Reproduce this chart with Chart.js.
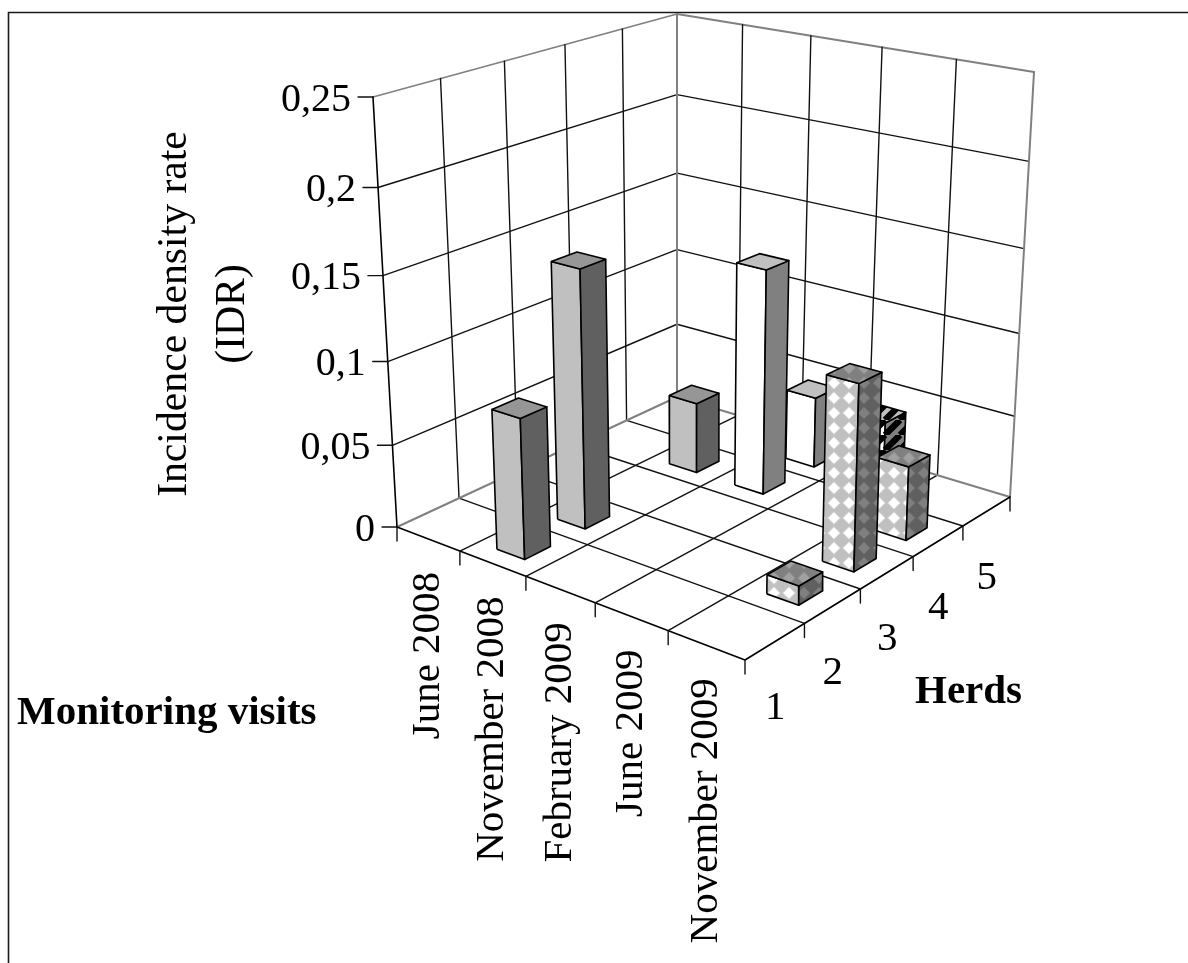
<!DOCTYPE html>
<html>
<head>
<meta charset="utf-8">
<title>Incidence density rate</title>
<script src="https://cdn.jsdelivr.net/npm/chart.js@4/dist/chart.umd.min.js"></script>
<style>
  html, body { margin: 0; padding: 0; background: #fff; }
  canvas { display: block; }
</style>
</head>
<body>
<canvas id="idrChart" width="1188" height="963"></canvas>
<script>
// categories and tick labels
const visits = ['June 2008', 'November 2008', 'February 2009', 'June 2009', 'November 2009'];
const herds = ['1', '2', '3', '4', '5'];
const idrTicks = [0, 0.05, 0.1, 0.15, 0.2, 0.25];
const idrTickLabels = ['0', '0,05', '0,1', '0,15', '0,2', '0,25'];

// one list per monitoring visit, values for herds 1 to 5
const idrJune2008 = [0, 0, 0, 0, 0];
const idrNov2008 = [0.083, 0.154, 0, 0.044, 0];
const idrFeb2009 = [0, 0, 0, 0.137, 0.044];
const idrJune2009 = [0, 0, 0, 0, 0.041];
const idrNov2009 = [0, 0.011, 0.108, 0.044, 0];
const idrByVisit = [idrJune2008, idrNov2008, idrFeb2009, idrJune2009, idrNov2009];

const idrMax = 0.25;
const barSize = 0.42; // share of a floor cell
const heightFore = 0.938; // perspective along the value axis

// corners of the 3D box on the page: front-left, front, right, back
const floorCorners = [[397, 527], [745, 660], [1010, 497], [677, 397]];
const topCorners = [[373, 97], [748, 175], [1034, 72], [677, 14]];

// unit square to quad (projective)
function makeHomography(q) {
    const [[x0, y0], [x1, y1], [x2, y2], [x3, y3]] = q;
    const dx1 = x1 - x2, dx2 = x3 - x2, sx = x0 - x1 + x2 - x3;
    const dy1 = y1 - y2, dy2 = y3 - y2, sy = y0 - y1 + y2 - y3;
    const den = dx1 * dy2 - dx2 * dy1;
    const g = (sx * dy2 - dx2 * sy) / den;
    const h = (dx1 * sy - sx * dy1) / den;
    const a = x1 - x0 + g * x1, b = x3 - x0 + h * x3;
    const d = y1 - y0 + g * y1, e = y3 - y0 + h * y3;
    return (u, v) => {
        const w = g * u + h * v + 1;
        return [(a * u + b * v + x0) / w, (d * u + e * v + y0) / w];
    };
}
const floorAt = makeHomography(floorCorners);
const topAt = makeHomography(topCorners);

// visit position i (0..5), herd position j (0..5), rate value
function project(i, j, value) {
    const f = floorAt(i / visits.length, j / herds.length);
    const t = topAt(i / visits.length, j / herds.length);
    const r = value / idrMax;
    const k = heightFore * r / (1 + (heightFore - 1) * r);
    return { x: f[0] + (t[0] - f[0]) * k, y: f[1] + (t[1] - f[1]) * k };
}

function diamondPattern(base, mid, light) {
    const period = 15;
    const tile = document.createElement('canvas');
    tile.width = tile.height = period;
    const c = tile.getContext('2d');
    c.fillStyle = base;
    c.fillRect(0, 0, period, period);
    [[mid, 6.6], [light, 5.4]].forEach(([color, r]) => {
        c.fillStyle = color;
        [[9, 8], [9 - period, 8], [9, 8 - period], [9 - period, 8 - period]].forEach(([x, y]) => {
            c.beginPath();
            c.moveTo(x - r, y);
            c.lineTo(x, y - r);
            c.lineTo(x + r, y);
            c.lineTo(x, y + r);
            c.closePath();
            c.fill();
        });
    });
    return document.createElement('canvas').getContext('2d').createPattern(tile, 'repeat');
}

function stripePattern(dark, light, period) {
    const tile = document.createElement('canvas');
    tile.width = tile.height = period;
    const c = tile.getContext('2d');
    c.fillStyle = light;
    c.fillRect(0, 0, period, period);
    c.strokeStyle = dark;
    c.lineWidth = period * 0.42;
    [-period, 0, period].forEach(o => {
        c.beginPath();
        c.moveTo(o, period);
        c.lineTo(o + period, 0);
        c.stroke();
    });
    return document.createElement('canvas').getContext('2d').createPattern(tile, 'repeat');
}

const solid = (front, side, top) => ({ front, side, top });
const visitStyles = [
    solid('#c0c0c0', '#606060', '#969696'),
    solid('#c0c0c0', '#606060', '#969696'),
    solid('#ffffff', '#808080', '#c0c0c0'),
    solid(stripePattern('#000000', '#ffffff', 15), stripePattern('#000000', '#808080', 15), stripePattern('#000000', '#c0c0c0', 15)),
    solid(diamondPattern('#c0c0c0', '#e0e0e0', '#ffffff'), diamondPattern('#606060', '#707070', '#808080'), diamondPattern('#808080', '#909090', '#a0a0a0'))
];

const lineSet = (points, color, width) => ({
    data: points, borderColor: color, borderWidth: width, fill: false,
    pointRadius: 0, tension: 0, borderJoinStyle: 'round', borderCapStyle: 'round'
});
const faceSet = (points, color) => ({
    data: points.concat([points[0]]), borderColor: '#000000', borderWidth: 1.6, backgroundColor: color,
    fill: 'shape', pointRadius: 0, tension: 0, borderJoinStyle: 'round'
});

// datasets listed from the back to the front, reversed at the end
const layers = [];
const wallGray = '#808080';
const gridBlack = '#111111';
const gridWidth = 1.4;
const nI = visits.length, nJ = herds.length;

// wall gridlines
idrTicks.forEach(t => {
    if (t === 0) return;
    layers.push(lineSet([project(0, 0, t), project(0, nJ, t), project(nI, nJ, t)], t === idrMax ? wallGray : gridBlack, t === idrMax ? 1.8 : gridWidth));
});
for (let j = 1; j < nJ; j++) layers.push(lineSet([project(0, j, 0), project(0, j, idrMax)], gridBlack, gridWidth));
for (let i = 1; i < nI; i++) layers.push(lineSet([project(i, nJ, 0), project(i, nJ, idrMax)], gridBlack, gridWidth));

// floor gridlines
for (let i = 1; i < nI; i++) layers.push(lineSet([project(i, 0, 0), project(i, nJ, 0)], gridBlack, gridWidth));
for (let j = 1; j < nJ; j++) layers.push(lineSet([project(0, j, 0), project(nI, j, 0)], gridBlack, gridWidth));

// box edges
layers.push(lineSet([project(0, 0, 0), project(0, nJ, 0), project(nI, nJ, 0), project(nI, nJ, idrMax)], wallGray, 2));
layers.push(lineSet([project(0, nJ, 0), project(0, nJ, idrMax)], wallGray, 2));
layers.push(lineSet([project(0, 0, idrMax), project(0, 0, 0), project(nI, 0, 0), project(nI, nJ, 0)], '#000000', 1.6));

// ticks below the floor and left of the value axis
for (let i = 0; i <= nI; i++) {
    const p = project(i, 0, 0);
    layers.push(lineSet([p, { x: p.x, y: p.y + 14 }], gridBlack, gridWidth));
}
for (let j = 1; j <= nJ; j++) {
    const p = project(nI, j, 0);
    layers.push(lineSet([p, { x: p.x, y: p.y + 14 }], gridBlack, gridWidth));
}
idrTicks.forEach(t => {
    const p = project(0, 0, t);
    layers.push(lineSet([{ x: p.x - 15, y: p.y }, p], gridBlack, gridWidth));
});

// bars, far ones first
const barOrder = [];
idrByVisit.forEach((list, i) => list.forEach((value, j) => {
    if (value > 0) barOrder.push({ i, j, value });
}));
barOrder.sort((a, b) => (a.i - a.j) - (b.i - b.j));
barOrder.forEach(({ i, j, value }) => {
    const lo = (1 - barSize) / 2, hi = 1 - lo;
    const style = visitStyles[i];
    const i0 = i + lo, i1 = i + hi, j0 = j + lo, j1 = j + hi;
    layers.push(faceSet([project(i0, j0, 0), project(i1, j0, 0), project(i1, j0, value), project(i0, j0, value)], style.front));
    layers.push(faceSet([project(i1, j0, 0), project(i1, j1, 0), project(i1, j1, value), project(i1, j0, value)], style.side));
    layers.push(faceSet([project(i0, j0, value), project(i1, j0, value), project(i1, j1, value), project(i0, j1, value)], style.top));
});

const textPlugin = {
    id: 'chartText',
    beforeDraw(chart) {
        const ctx = chart.ctx;
        ctx.save();
        ctx.fillStyle = '#ffffff';
        ctx.fillRect(0, 0, 1188, 963);
        ctx.strokeStyle = '#1a1a1a';
        ctx.lineWidth = 1.6;
        ctx.beginPath();
        ctx.moveTo(8.5, 963);
        ctx.lineTo(8.5, 12.5);
        ctx.lineTo(1188, 12.5);
        ctx.stroke();
        ctx.restore();
    },
    afterDraw(chart) {
        const ctx = chart.ctx;
        const serif = '"Liberation Serif", "Times New Roman", serif';
        ctx.save();
        ctx.fillStyle = '#000000';
        ctx.font = '40px ' + serif;

        ctx.textAlign = 'right';
        ctx.textBaseline = 'middle';
        idrTicks.forEach((t, n) => {
            const p = project(0, 0, t);
            ctx.fillText(idrTickLabels[n], p.x - 22, p.y + 3);
        });

        ctx.font = '41px ' + serif;
        visits.forEach((name, i) => {
            const p = project(i + 0.5, 0, 0);
            ctx.save();
            ctx.translate(p.x, p.y + 33);
            ctx.rotate(-Math.PI / 2);
            ctx.fillText(name, 0, 0);
            ctx.restore();
        });

        ctx.textAlign = 'center';
        herds.forEach((name, j) => {
            const p = project(nI, j + 0.5, 0);
            ctx.fillText(name, p.x, p.y + 67);
        });

        ctx.save();
        ctx.translate(175, 314);
        ctx.rotate(-Math.PI / 2);
        ctx.font = '41.7px ' + serif;
        ctx.fillText('Incidence density rate', 0, 0);
        ctx.fillText('(IDR)', 0, 58);
        ctx.restore();

        ctx.font = 'bold 41px ' + serif;
        ctx.textAlign = 'left';
        ctx.fillText('Monitoring visits', 17, 713);
        ctx.fillText('Herds', 915, 692);
        ctx.restore();
    }
};

new Chart(document.getElementById('idrChart'), {
    type: 'line',
    data: { datasets: layers.reverse() },
    options: {
        responsive: false,
        animation: false,
        layout: { padding: 0 },
        plugins: { legend: { display: false }, tooltip: { enabled: false } },
        scales: {
            x: { type: 'linear', min: 0, max: 1188, display: false },
            y: { type: 'linear', min: 0, max: 963, reverse: true, display: false }
        }
    },
    plugins: [textPlugin]
});
</script>
</body>
</html>
